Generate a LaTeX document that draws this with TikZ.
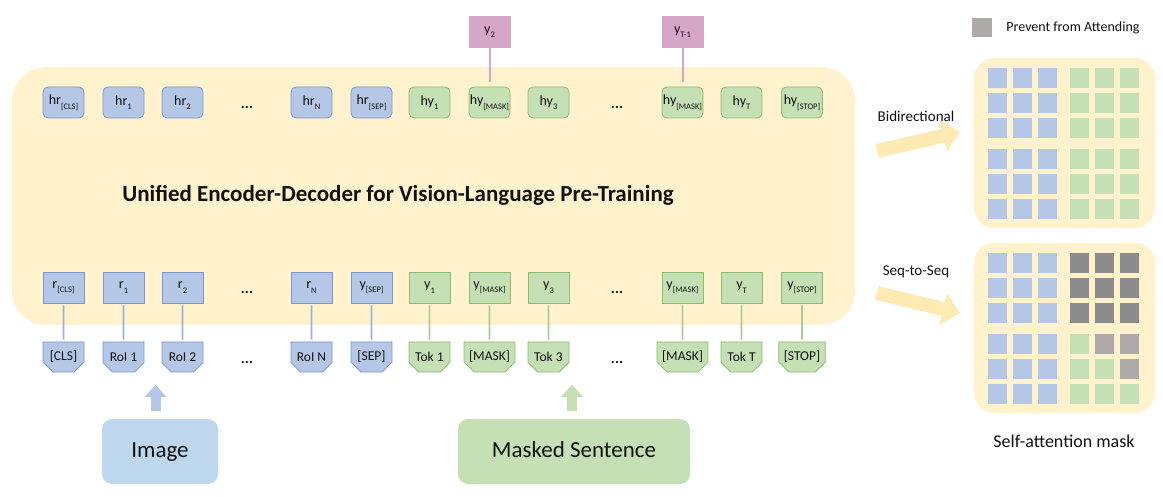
\documentclass[tikz,border=0pt]{standalone}
\usepackage{fontspec}
\setmainfont{Carlito}
\usetikzlibrary{positioning,arrows.meta,calc,shapes.misc}
\definecolor{ink}{HTML}{111111}
\definecolor{panel}{HTML}{FFF2CC}
\definecolor{rblue}{HTML}{B4C7E7}
\definecolor{rbluedk}{HTML}{7B97CC}
\definecolor{ygreen}{HTML}{C5E0B4}
\definecolor{ygreendk}{HTML}{8CBD6F}
\definecolor{pinkout}{HTML}{D5A6C8}
\definecolor{imgblue}{HTML}{BDD7EE}
\definecolor{maskdk}{HTML}{8C8C8C}
\definecolor{masklt}{HTML}{AEAAAA}
\definecolor{fatyel}{HTML}{FDEBB3}
\newcommand{\sbs}[1]{\raisebox{-0.32em}{\fontsize{8.5}{8.5}\selectfont #1}}
\newcommand{\pxfont}[1]{\fontsize{#1}{#1}\selectfont}
\tikzset{
  hid/.style={rounded corners=5pt, draw=#1dk, fill=#1, line width=0.8pt,
    minimum width=41pt, minimum height=31pt, inner sep=0pt, font=\pxfont{14}, text=ink},
  emb/.style={draw=#1dk, fill=#1, line width=0.8pt,
    minimum width=41pt, minimum height=31pt, inner sep=0pt, font=\pxfont{14}, text=ink},
  tok/.style={chamfered rectangle, chamfered rectangle corners={south west,south east},
    chamfered rectangle xsep=5pt, chamfered rectangle ysep=5pt,
    draw=#1dk, fill=#1, line width=0.8pt, minimum width=41pt, minimum height=30pt,
    inner sep=0pt, font=\pxfont{13.5}, text=ink},
  lnk/.style={draw=#1dk!75, line width=1.8pt, shorten <=2pt, shorten >=2pt},
  outp/.style={fill=pinkout, minimum width=42pt, minimum height=32pt, inner sep=0pt,
    font=\pxfont{14}, text=ink},
  plk/.style={draw=pinkout, line width=2pt, shorten <=5pt},
  encp/.style={rounded corners=34pt, fill=panel, minimum width=843pt, minimum height=258pt},
  maskp/.style={rounded corners=20pt, fill=panel, minimum width=181pt, minimum height=170pt},
  src/.style={rounded corners=10pt, fill=#1, minimum height=65pt, inner sep=0pt,
    text height=16pt, text depth=5pt, font=\pxfont{23}, text=ink},
  upa/.style={draw=#1, line width=10pt, -{Triangle[length=12pt,width=21pt]}},
  fat/.style={draw=fatyel, line width=14pt, -{Triangle[length=17pt,width=32pt]}},
  dotsn/.style={font=\pxfont{15}\bfseries, inner sep=0pt, text=ink},
  lbl/.style={font=\pxfont{15}, inner sep=0pt, text=ink},
}

\begin{document}
\begin{tikzpicture}[x=1pt,y=-1pt]
  \path[fill=white, use as bounding box] (0,0) rectangle (1163,497);

  % encoder-decoder block
  \node[encp] (enc) at (433.5,196) {};
  \node[font=\pxfont{23}\bfseries, text=ink] (ttl) at (398,195)
    {Unified Encoder-Decoder for Vision-Language Pre-Training};

  % three rows of tokens
  \foreach \x/\ha/\ea/\ta/\cl [count=\k] in {
    63.5/hr\sbs{[CLS]}/r\sbs{[CLS]}/[CLS]/rblue,
    123.5/hr\sbs{1}/r\sbs{1}/RoI 1/rblue,
    182.5/hr\sbs{2}/r\sbs{2}/RoI 2/rblue,
    311.5/hr\sbs{N}/r\sbs{N}/RoI N/rblue,
    371.5/hr\sbs{[SEP]}/y\sbs{[SEP]}/[SEP]/rblue,
    429.5/hy\sbs{1}/y\sbs{1}/Tok 1/ygreen,
    489.5/hy\sbs{[MASK]}/y\sbs{[MASK]}/[MASK]/ygreen,
    548.5/hy\sbs{3}/y\sbs{3}/Tok 3/ygreen,
    682.5/hy\sbs{[MASK]}/y\sbs{[MASK]}/[MASK]/ygreen,
    741.5/hy\sbs{T}/y\sbs{T}/Tok T/ygreen,
    802/hy\sbs{[STOP]}/y\sbs{[STOP]}/[STOP]/ygreen} {
    \node[hid=\cl] (t\k) at (\x,102.5) {\ha};
    \node[emb=\cl] (m\k) at (\x,287.5) {\ea};
    \node[tok=\cl] (b\k) at (\x,357) {\ta};
    \draw[lnk=\cl] (b\k) -- (m\k);
  }
  \foreach \x [count=\i] in {247,617}
    \foreach \y [count=\j] in {107.5,292.5,362}
      \node[dotsn] (dt\i\j) at (\x,\y) {...};

  % predicted words
  \node[outp] (o1) at (489.5,32) {y\sbs{2}};
  \node[outp] (o2) at (682.5,32) {y\sbs{T-1}};
  \draw[plk] (t7) -- (o1);
  \draw[plk] (t9) -- (o2);

  % inputs
  \node[src=imgblue, minimum width=116pt] (img) at (160,451.5) {Image};
  \node[src=ygreen, minimum width=232pt] (snt) at (574,451.5) {Masked Sentence};
  \draw[upa=rblue] ($(img.north)+(-4.5,-8)$) -- ++(0,-26);
  \draw[upa=ygreen] ($(snt.north)+(-2,-8)$) -- ++(0,-26);

  % attention masks
  \node[maskp] (bid) at (1064.5,143) {};
  \node[maskp] (s2s) at (1064.5,328) {};
  \foreach \i in {0,...,5}{
    \foreach \j in {0,...,5}{
      \pgfmathsetmacro{\xo}{14+25*\i+7*(\i>2)}
      \pgfmathsetmacro{\yo}{10+25*\j+6*(\j>2)}
      \ifnum\i<3 \def\cb{rblue}\def\cs{rblue}
      \else \def\cb{ygreen}
        \ifnum\j<3 \def\cs{maskdk}\else\ifnum\i>\j \def\cs{masklt}\else\def\cs{ygreen}\fi\fi
      \fi
      \fill[\cb] ($(bid.north west)+(\xo,\yo)$) rectangle ++(19,20);
      \fill[\cs] ($(s2s.north west)+(\xo,\yo)$) rectangle ++(19,20);
    }
  }
  \coordinate (bdt) at (877,151);
  \coordinate (sst) at (877,293);
  \draw[fat] (bdt) -- ($(bid.west)+(-14,-11)$);
  \draw[fat] (sst) -- ($(s2s.west)+(-14,-15)$);
  \node[lbl] (bdl) at (916,116) {Bidirectional};
  \node[lbl] (ssl) at (916,272) {Seq-to-Seq};
  \node[lbl, font=\pxfont{18}] (sam) at (1064,441) {Self-attention mask};

  % legend
  \node[fill=masklt, minimum width=20pt, minimum height=19pt, inner sep=0pt] (lg) at (982,27.5) {};
  \node[lbl, font=\pxfont{14}, right=14pt of lg] (lgt) {Prevent from Attending};
\end{tikzpicture}
\end{document}
